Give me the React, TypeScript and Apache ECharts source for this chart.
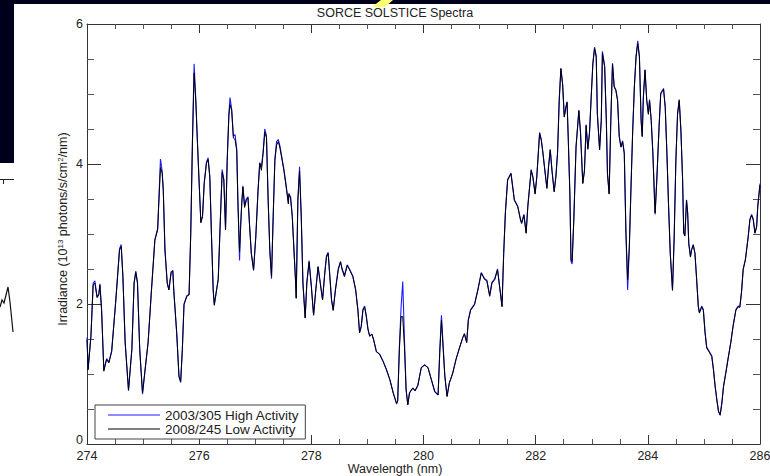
import React, { useEffect, useRef } from "react";
import * as echarts from "echarts";

const wavelengths = [
  274.00, 274.02, 274.07, 274.11, 274.14, 274.18, 274.21, 274.23, 274.26, 274.30,
  274.35, 274.39, 274.44, 274.51, 274.58, 274.61, 274.64, 274.68, 274.74, 274.80,
  274.84, 274.87, 274.90, 274.94, 274.99, 275.03, 275.09, 275.15, 275.21, 275.26,
  275.28, 275.31, 275.34, 275.36, 275.39, 275.43, 275.46, 275.50, 275.53, 275.55,
  275.60, 275.64, 275.67, 275.70, 275.73, 275.78, 275.82, 275.85, 275.88, 275.91,
  275.94, 275.97, 276.00, 276.03, 276.06, 276.09, 276.13, 276.16, 276.19, 276.22,
  276.25, 276.27, 276.31, 276.34, 276.38, 276.41, 276.44, 276.47, 276.50, 276.53,
  276.55, 276.58, 276.61, 276.64, 276.67, 276.69, 276.72, 276.74, 276.76, 276.78,
  276.81, 276.84, 276.87, 276.90, 276.93, 276.97, 277.01, 277.05, 277.08, 277.11,
  277.14, 277.17, 277.20, 277.23, 277.26, 277.29, 277.32, 277.35, 277.38, 277.41,
  277.44, 277.48, 277.51, 277.56, 277.59, 277.60, 277.63, 277.66, 277.69, 277.72,
  277.73, 277.76, 277.79, 277.82, 277.85, 277.89, 277.92, 277.96, 278.00, 278.04,
  278.08, 278.12, 278.15, 278.20, 278.24, 278.27, 278.30, 278.33, 278.36, 278.39,
  278.43, 278.48, 278.52, 278.55, 278.59, 278.64, 278.68, 278.74, 278.79, 278.83,
  278.86, 278.89, 278.92, 278.95, 278.98, 279.01, 279.04, 279.08, 279.11, 279.16,
  279.22, 279.28, 279.34, 279.40, 279.46, 279.52, 279.54, 279.57, 279.60, 279.63,
  279.66, 279.69, 279.72, 279.75, 279.81, 279.85, 279.90, 279.96, 280.02, 280.08,
  280.14, 280.20, 280.26, 280.29, 280.32, 280.38, 280.42, 280.46, 280.52, 280.58,
  280.64, 280.70, 280.73, 280.77, 280.80, 280.84, 280.91, 280.97, 281.03, 281.09,
  281.13, 281.18, 281.22, 281.27, 281.32, 281.37, 281.40, 281.43, 281.46, 281.50,
  281.56, 281.59, 281.62, 281.68, 281.73, 281.75, 281.79, 281.83, 281.86, 281.92,
  281.95, 281.99, 282.02, 282.07, 282.10, 282.13, 282.17, 282.20, 282.23, 282.26,
  282.29, 282.33, 282.36, 282.39, 282.42, 282.45, 282.48, 282.51, 282.54, 282.56,
  282.58, 282.61, 282.63, 282.65, 282.68, 282.72, 282.77, 282.80, 282.84, 282.87,
  282.90, 282.93, 282.96, 282.99, 283.02, 283.05, 283.08, 283.10, 283.14, 283.17,
  283.19, 283.23, 283.26, 283.28, 283.31, 283.34, 283.37, 283.40, 283.43, 283.46,
  283.49, 283.52, 283.55, 283.58, 283.61, 283.64, 283.67, 283.70, 283.73, 283.76,
  283.79, 283.82, 283.85, 283.88, 283.90, 283.92, 283.95, 283.98, 284.01, 284.03,
  284.06, 284.09, 284.12, 284.13, 284.16, 284.20, 284.23, 284.28, 284.31, 284.34,
  284.37, 284.40, 284.44, 284.47, 284.50, 284.53, 284.56, 284.59, 284.62, 284.64,
  284.66, 284.69, 284.71, 284.73, 284.76, 284.78, 284.81, 284.84, 284.87, 284.90,
  284.92, 284.96, 284.99, 285.02, 285.05, 285.09, 285.14, 285.17, 285.20, 285.23,
  285.26, 285.29, 285.32, 285.35, 285.39, 285.43, 285.48, 285.52, 285.57, 285.61,
  285.64, 285.67, 285.70, 285.74, 285.79, 285.82, 285.85, 285.88, 285.91, 285.94,
  285.96, 286.00,
];

// 2008/245 Low Activity (black)
const lowActivity = [
  1.49, 1.06, 1.53, 2.27, 2.30, 2.09, 2.13, 2.27, 1.91, 1.04,
  1.21, 1.16, 1.32, 2.01, 2.77, 2.82, 2.39, 1.45, 0.77, 1.35,
  2.30, 2.45, 2.30, 1.35, 0.73, 1.02, 1.45, 2.20, 2.91, 3.06,
  3.44, 3.95, 3.87, 3.62, 2.77, 2.30, 2.20, 2.45, 2.47, 2.16,
  1.58, 0.97, 0.89, 1.35, 1.99, 2.11, 2.13, 3.01, 4.30, 5.30,
  4.90, 4.29, 3.72, 3.16, 3.25, 3.72, 4.01, 4.06, 3.81, 2.96,
  2.20, 1.99, 2.20, 2.35, 3.25, 3.88, 3.77, 3.06, 4.05, 4.70,
  4.85, 4.76, 4.37, 4.35, 4.19, 3.48, 2.75, 3.12, 3.44, 3.67,
  3.38, 3.48, 3.52, 3.10, 2.72, 2.49, 2.96, 3.62, 4.01, 3.91,
  4.15, 4.45, 4.38, 3.48, 2.77, 2.39, 3.25, 4.05, 4.27, 4.32,
  4.23, 4.05, 3.91, 3.62, 3.43, 3.57, 3.51, 3.25, 2.77, 2.30,
  2.08, 3.48, 3.90, 3.25, 2.30, 1.80, 2.30, 2.60, 2.25, 1.84,
  2.20, 2.53, 2.35, 2.06, 2.44, 2.67, 2.72, 2.39, 2.06, 1.91,
  2.20, 2.49, 2.60, 2.49, 2.39, 2.55, 2.49, 2.39, 2.20, 1.91,
  1.59, 1.68, 1.91, 1.96, 1.82, 1.64, 1.54, 1.57, 1.49, 1.32,
  1.28, 1.18, 1.06, 0.92, 0.73, 0.58, 0.62, 1.35, 1.82, 1.82,
  1.39, 0.77, 0.56, 0.73, 0.80, 0.76, 0.84, 1.09, 1.13, 1.09,
  0.92, 0.75, 0.70, 1.31, 1.77, 0.97, 0.68, 0.87, 1.01, 1.21,
  1.37, 1.52, 1.57, 1.45, 1.77, 1.91, 1.99, 2.20, 2.44, 2.35,
  2.33, 2.11, 2.30, 2.35, 2.49, 2.16, 1.96, 2.72, 3.30, 3.77,
  3.86, 3.67, 3.48, 3.39, 3.20, 3.15, 3.27, 3.01, 3.39, 3.91,
  3.81, 3.57, 3.81, 4.44, 4.34, 4.15, 3.86, 3.65, 3.96, 4.20,
  3.91, 3.60, 3.81, 4.15, 4.91, 5.36, 5.14, 4.67, 4.81, 4.88,
  4.39, 3.57, 2.63, 2.61, 3.20, 4.24, 4.76, 4.44, 3.72, 3.90,
  4.55, 4.21, 4.44, 4.95, 5.43, 5.65, 5.53, 4.71, 4.20, 4.62,
  5.58, 5.39, 4.62, 3.86, 3.57, 4.62, 5.43, 5.10, 5.05, 4.91,
  4.39, 4.24, 4.32, 4.15, 3.01, 2.35, 2.82, 3.67, 4.47, 5.10,
  5.53, 5.72, 5.53, 4.62, 4.39, 4.95, 5.34, 4.91, 4.71, 4.91,
  4.62, 4.15, 3.48, 3.30, 3.77, 4.52, 5.00, 5.07, 4.81, 4.15,
  3.39, 2.72, 2.20, 2.96, 4.05, 4.71, 4.91, 4.47, 3.77, 3.01,
  2.97, 3.48, 3.30, 2.86, 2.67, 2.77, 2.84, 2.72, 2.35, 1.96,
  1.87, 1.96, 1.91, 1.59, 1.37, 1.32, 1.25, 1.06, 0.82, 0.63,
  0.46, 0.41, 0.58, 0.82, 1.01, 1.21, 1.45, 1.68, 1.91, 1.96,
  1.95, 2.16, 2.49, 2.63, 2.96, 3.20, 3.27, 3.20, 3.01, 3.10,
  3.39, 3.70,
];

// 2003/305 High Activity (blue)
const highActivity = [
  1.52, 1.08, 1.55, 2.30, 2.33, 2.10, 2.14, 2.29, 1.93, 1.06,
  1.22, 1.17, 1.33, 2.02, 2.79, 2.85, 2.40, 1.46, 0.76, 1.36,
  2.31, 2.47, 2.31, 1.36, 0.71, 1.02, 1.46, 2.21, 2.92, 3.08,
  3.46, 4.07, 3.90, 3.64, 2.78, 2.31, 2.20, 2.46, 2.48, 2.16,
  1.58, 0.96, 0.88, 1.35, 2.00, 2.12, 2.14, 3.02, 4.32, 5.43,
  4.92, 4.30, 3.73, 3.17, 3.26, 3.73, 4.03, 4.09, 3.82, 2.97,
  2.20, 1.98, 2.20, 2.36, 3.26, 3.92, 3.78, 3.07, 4.06, 4.72,
  4.95, 4.78, 4.40, 4.42, 4.21, 3.49, 2.62, 3.12, 3.45, 3.69,
  3.40, 3.50, 3.53, 3.11, 2.73, 2.48, 2.97, 3.63, 4.02, 3.96,
  4.17, 4.50, 4.40, 3.49, 2.76, 2.36, 3.26, 4.07, 4.32, 4.35,
  4.26, 4.07, 3.93, 3.64, 3.45, 3.58, 3.53, 3.26, 2.78, 2.31,
  2.09, 3.50, 3.96, 3.26, 2.31, 1.80, 2.31, 2.62, 2.26, 1.84,
  2.21, 2.54, 2.36, 2.06, 2.45, 2.69, 2.74, 2.40, 2.06, 1.91,
  2.21, 2.50, 2.61, 2.50, 2.41, 2.56, 2.50, 2.40, 2.21, 1.92,
  1.59, 1.68, 1.92, 1.97, 1.83, 1.64, 1.54, 1.57, 1.49, 1.32,
  1.28, 1.18, 1.06, 0.92, 0.73, 0.57, 0.62, 1.40, 1.95, 2.32,
  1.50, 0.78, 0.56, 0.73, 0.80, 0.76, 0.84, 1.09, 1.13, 1.09,
  0.92, 0.75, 0.70, 1.33, 1.84, 0.98, 0.68, 0.87, 1.01, 1.21,
  1.37, 1.52, 1.58, 1.45, 1.78, 1.92, 2.00, 2.21, 2.45, 2.36,
  2.34, 2.12, 2.31, 2.36, 2.50, 2.17, 1.97, 2.73, 3.31, 3.78,
  3.87, 3.68, 3.49, 3.40, 3.21, 3.16, 3.28, 3.02, 3.40, 3.92,
  3.82, 3.58, 3.82, 4.45, 4.35, 4.16, 3.87, 3.66, 3.97, 4.21,
  3.92, 3.61, 3.82, 4.16, 4.92, 5.37, 5.15, 4.68, 4.82, 4.89,
  4.40, 3.58, 2.61, 2.57, 3.21, 4.25, 4.77, 4.45, 3.73, 3.91,
  4.56, 4.22, 4.45, 4.96, 5.44, 5.67, 5.54, 4.72, 4.21, 4.63,
  5.61, 5.40, 4.63, 3.87, 3.58, 4.63, 5.44, 5.11, 5.06, 4.92,
  4.40, 4.25, 4.33, 4.16, 3.00, 2.20, 2.80, 3.68, 4.48, 5.11,
  5.54, 5.76, 5.54, 4.63, 4.40, 4.96, 5.35, 4.92, 4.72, 4.92,
  4.63, 4.16, 3.48, 3.28, 3.78, 4.53, 5.01, 5.08, 4.82, 4.16,
  3.40, 2.72, 2.19, 2.97, 4.06, 4.72, 4.92, 4.48, 3.78, 3.02,
  2.98, 3.49, 3.31, 2.87, 2.68, 2.78, 2.85, 2.73, 2.36, 1.97,
  1.88, 1.97, 1.92, 1.60, 1.38, 1.33, 1.26, 1.07, 0.83, 0.64,
  0.47, 0.42, 0.59, 0.83, 1.02, 1.22, 1.46, 1.69, 1.92, 1.97,
  1.96, 2.17, 2.50, 2.64, 2.97, 3.21, 3.28, 3.21, 3.02, 3.11,
  3.40, 3.72,
];

const seriesNames = ["2003/305 High Activity", "2008/245 Low Activity"];
const chartTitle = "SORCE SOLSTICE Spectra";
const xAxisTitle = "Wavelength (nm)";
const xTicks = { min: 274, max: 286, interval: 2 };
const yTicks = { min: 0, max: 6, interval: 2 };

const FONT = "'Liberation Sans', Arial, sans-serif";
const AXIS_COLOR = "#333";
const TEXT_COLOR = "#222";

export default function App() {
  const ref = useRef<HTMLDivElement>(null);

  useEffect(() => {
    if (!ref.current) return;
    const chart = echarts.init(ref.current, undefined, { renderer: "svg" });

    const high = wavelengths.map((w, i) => [w, highActivity[i]]);
    const low = wavelengths.map((w, i) => [w, lowActivity[i]]);

    const xBase = (position: "top" | "bottom", showLabel: boolean) => ({
      type: "value" as const,
      position,
      min: xTicks.min,
      max: xTicks.max,
      interval: xTicks.interval,
      axisLine: { show: true, onZero: false, lineStyle: { color: AXIS_COLOR, width: 1 } },
      axisTick: { show: true, inside: true, length: 9, lineStyle: { color: AXIS_COLOR } },
      minorTick: { show: true, splitNumber: 4, length: 5, lineStyle: { color: "#555" } },
      axisLabel: {
        show: showLabel,
        fontFamily: FONT,
        fontSize: 12.5,
        lineHeight: 12,
        color: TEXT_COLOR,
        margin: 6,
      },
      splitLine: { show: false },
      minorSplitLine: { show: false },
    });

    const yBase = (position: "left" | "right", showLabel: boolean, name?: string) => ({
      type: "value" as const,
      position,
      min: yTicks.min,
      max: yTicks.max,
      interval: yTicks.interval,
      name: name ?? "",
      nameLocation: "middle" as const,
      nameGap: 18,
      nameMoveOverlap: false,
      nameTextStyle: {
        fontFamily: FONT,
        fontSize: 12.5,
        color: TEXT_COLOR,
        padding: [0, 0, 0, 10],
        rich: {
          sup: { fontFamily: FONT, fontSize: 8, color: TEXT_COLOR, verticalAlign: "top", lineHeight: 10 },
        },
      },
      axisLine: { show: true, onZero: false, lineStyle: { color: AXIS_COLOR, width: 1 } },
      axisTick: { show: true, inside: true, length: 14, lineStyle: { color: AXIS_COLOR } },
      minorTick: { show: true, splitNumber: 4, length: 7, lineStyle: { color: "#555" } },
      axisLabel: {
        show: showLabel,
        fontFamily: FONT,
        fontSize: 12.5,
        lineHeight: 10,
        color: TEXT_COLOR,
        margin: 4,
        formatter: (v: number) => (v === 0 ? "{zero|0}" : String(v)),
        rich: {
          zero: {
            fontFamily: FONT,
            fontSize: 12.5,
            lineHeight: 10,
            color: TEXT_COLOR,
            padding: [0, 0, 8, 0],
          },
        },
      },
      splitLine: { show: false },
      minorSplitLine: { show: false },
    });

    chart.setOption({
      animation: false,
      backgroundColor: "#ffffff",
      grid: {
        left: 87,
        right: 10,
        top: 24,
        bottom: 32,
        containLabel: false,
        outerBoundsMode: "none",
      },
      xAxis: [xBase("bottom", true), xBase("top", false)],
      yAxis: [
        yBase("left", true, "Irradiance (10{sup|13} photons/s/cm{sup|2}/nm)"),
        yBase("right", false),
      ],
      legend: {
        orient: "vertical",
        left: 95,
        top: 405,
        data: seriesNames,
        icon: "rect",
        itemWidth: 52,
        itemHeight: 1,
        itemGap: 0,
        padding: [3, 6, 3, 13],
        backgroundColor: "#ffffff",
        borderColor: "#444",
        borderWidth: 1,
        borderRadius: 0,
        selectedMode: false,
        textStyle: {
          fontFamily: FONT,
          fontSize: 13.5,
          color: TEXT_COLOR,
          lineHeight: 11,
        },
      },
      series: [
        {
          name: seriesNames[0],
          type: "line",
          data: high,
          xAxisIndex: 0,
          yAxisIndex: 0,
          showSymbol: false,
          symbol: "none",
          lineStyle: { color: "#1a1aff", width: 1.1 },
          itemStyle: { color: "#1a1aff" },
          clip: true,
          z: 2,
        },
        {
          name: seriesNames[1],
          type: "line",
          data: low,
          xAxisIndex: 0,
          yAxisIndex: 0,
          showSymbol: false,
          symbol: "none",
          lineStyle: { color: "#000000", width: 1 },
          itemStyle: { color: "#000000" },
          clip: true,
          z: 3,
        },
      ],
      graphic: [
        { type: "rect", shape: { x: 0, y: 0, width: 770, height: 4 }, style: { fill: "#00001c" }, z: 10 },
        { type: "rect", shape: { x: 0, y: 0, width: 14, height: 163 }, style: { fill: "#00001c" }, z: 10 },
        {
          type: "polygon",
          shape: { points: [[381, 0], [393, 0], [385, 7], [372, 7]] },
          style: { fill: "#ffff73" },
          z: 11,
        },
        {
          type: "text",
          x: 395,
          y: 12.5,
          style: {
            text: chartTitle,
            fontFamily: FONT,
            fontSize: 12.5,
            fill: TEXT_COLOR,
            align: "center",
            verticalAlign: "middle",
          },
          z: 10,
        },
        {
          type: "text",
          x: 395,
          y: 469,
          style: {
            text: xAxisTitle,
            fontFamily: FONT,
            fontSize: 12.5,
            lineHeight: 14,
            fill: TEXT_COLOR,
            align: "center",
            verticalAlign: "middle",
          },
          z: 10,
        },
        {
          type: "line",
          shape: { x1: 0, y1: 179.5, x2: 14, y2: 179.5 },
          style: { stroke: "#222", lineWidth: 1 },
          z: 10,
        },
        {
          type: "line",
          shape: { x1: 3.5, y1: 180, x2: 3.5, y2: 184 },
          style: { stroke: "#222", lineWidth: 1 },
          z: 10,
        },
        {
          type: "polyline",
          shape: { points: [[0, 307], [2, 300], [4, 303], [8, 287], [10, 302], [13, 332]] },
          style: { stroke: "#111", lineWidth: 1.2, fill: "none" },
          z: 10,
        },
      ],
    });

    return () => chart.dispose();
  }, []);

  return (
    <div
      ref={ref}
      style={{ position: "fixed", left: 0, top: 0, width: 770, height: 476, background: "#fff" }}
    />
  );
}
